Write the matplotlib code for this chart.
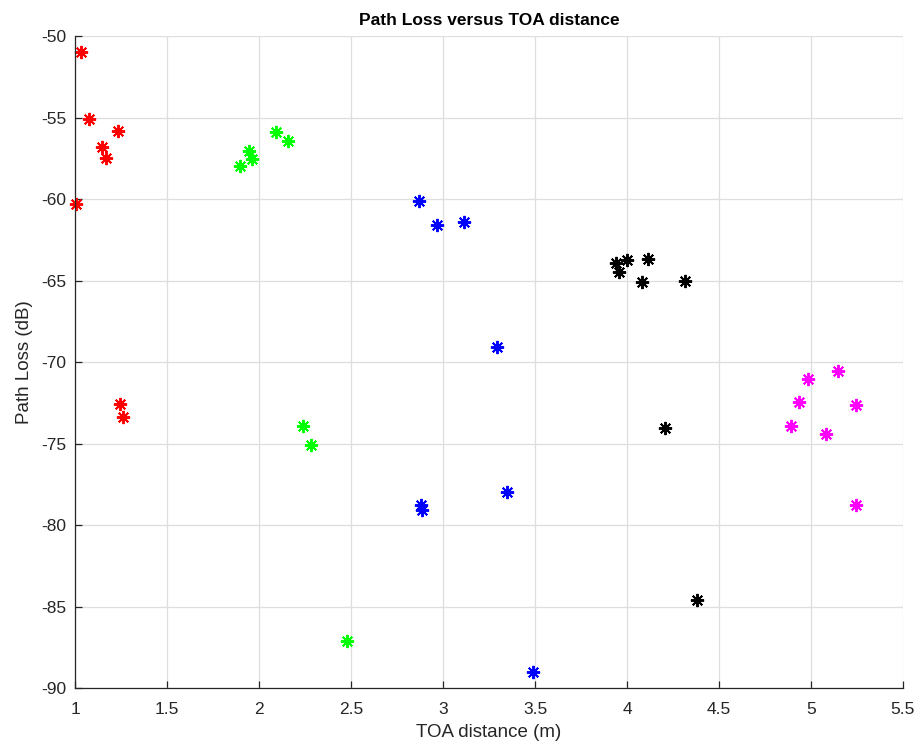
import matplotlib.pyplot as plt
from matplotlib.ticker import MultipleLocator

# TOA distance (m) and path loss (dB) for each group
red_x = [1.03, 1.076, 1.235, 1.145, 1.168, 1.005, 1.245, 1.259]
red_y = [-51.0, -55.1, -55.8, -56.8, -57.5, -60.3, -72.6, -73.4]

green_x = [2.092, 2.159, 1.947, 1.964, 1.897, 2.241, 2.283, 2.48]
green_y = [-55.9, -56.45, -57.05, -57.55, -58.0, -73.9, -75.1, -87.1]

blue_x = [2.87, 2.967, 3.116, 3.292, 2.88, 2.886, 3.35, 3.49]
blue_y = [-60.1, -61.6, -61.4, -69.1, -78.75, -79.05, -78.0, -89.0]

black_x = [3.938, 3.957, 3.998, 4.116, 4.083, 4.315, 4.208, 4.382]
black_y = [-63.9, -64.5, -63.75, -63.7, -65.1, -65.0, -74.05, -84.6]

magenta_x = [5.148, 4.985, 4.933, 5.243, 4.891, 5.082, 5.243]
magenta_y = [-70.55, -71.05, -72.45, -72.65, -73.95, -74.4, -78.8]

plt.rcParams['font.family'] = ['Liberation Sans', 'DejaVu Sans']
plt.rcParams['axes.unicode_minus'] = False

fig = plt.figure(figsize=(9.17, 7.46), dpi=100)
ax = fig.add_axes([0.0818, 0.0777, 0.9029, 0.874])

star = (8, 2, 0)
for xs, ys, c in [(red_x, red_y, '#ff0000'), (green_x, green_y, '#00ff00'),
                  (blue_x, blue_y, '#0000ff'), (black_x, black_y, '#000000'),
                  (magenta_x, magenta_y, '#ff00ff')]:
    ax.plot(xs, ys, linestyle='none', marker=star, markersize=9.5,
            markeredgewidth=1.4, color=c, clip_on=False)

ax.set_xlim(1, 5.5)
ax.set_ylim(-90, -50)
ax.yaxis.set_major_locator(MultipleLocator(5))
ax.set_xticks([1, 1.5, 2, 2.5, 3, 3.5, 4, 4.5, 5, 5.5])
ax.set_xticklabels(['1', '1.5', '2', '2.5', '3', '3.5', '4', '4.5', '5', '5.5'])

ax.grid(True, color='#dedede', linewidth=0.9)
ax.set_axisbelow(True)
for s in ['top', 'right']:
    ax.spines[s].set_visible(False)
for s in ['left', 'bottom']:
    ax.spines[s].set_color('#262626')
    ax.spines[s].set_linewidth(0.9)
ax.tick_params(direction='in', length=5, width=0.9, color='#262626',
               labelsize=12.5, labelcolor='#262626', pad=6)
ax.tick_params(axis='x', pad=10)

ax.set_title('Path Loss versus TOA distance', fontsize=12.5, fontweight='bold', pad=8)
ax.set_xlabel('TOA distance (m)', fontsize=13.5, color='#262626', labelpad=5)
ax.set_ylabel('Path Loss (dB)', fontsize=13.5, color='#262626', labelpad=6)

fig.savefig('out.png', dpi=100)
